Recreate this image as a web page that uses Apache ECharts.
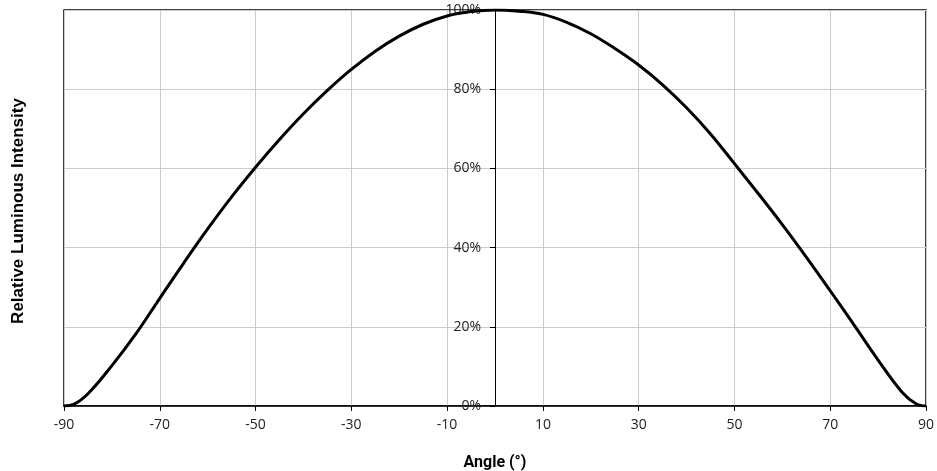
<!DOCTYPE html>
<html>
<head>
<meta charset="utf-8">
<script src="https://cdn.jsdelivr.net/npm/echarts@6/dist/echarts.min.js"></script>
<style>
html,body{margin:0;padding:0;background:#fff;}
#chart{width:937px;height:471px;}
</style>
</head>
<body>
<div id="chart"></div>
<script>
const angles = [-90,-88,-85,-80,-75,-70,-65,-60,-55,-50,-45,-40,-35,-30,-25,-20,-15,-10,-5,0,5,10,15,20,25,30,35,40,45,50,55,60,65,70,75,80,85,88,90];
const intensity = [0,0.4,3.1,10.2,18.2,27.2,36.1,44.7,52.8,60.3,67.3,73.8,79.7,85.0,89.6,93.4,96.4,98.5,99.6,100,99.7,98.9,96.9,94.0,90.3,86.1,81.1,75.3,68.7,61.2,53.6,45.8,37.6,29.1,20.4,11.6,3.5,0.5,0];
const xTitle = 'Angle (°)';
const yTitle = 'Relative Luminous Intensity';

const seriesData = angles.map((a, i) => [a, intensity[i]]);
const W = 937, gridLeft = 64, gridRight = 11;
const xMin = -90, xMax = 90;
// shift the y axis from the left edge to x = 0
const yOffset = -((W - gridLeft - gridRight) * (0 - xMin) / (xMax - xMin));

const chart = echarts.init(document.getElementById('chart'));
chart.setOption({
  animation: false,
  grid: { left: gridLeft, right: gridRight, top: 10, bottom: 65, outerBoundsMode: 'none', containLabel: false, show: true, borderColor: '#000', borderWidth: 1.5, backgroundColor: 'transparent' },
  graphic: [{
    type: 'text', rotation: Math.PI / 2, x: 18, y: 211,
    style: { text: yTitle, font: 'bold 17px "Liberation Sans", Arial, sans-serif', fill: '#000', align: 'center', verticalAlign: 'middle' }
  }],
  xAxis: {
    type: 'value', min: xMin, max: xMax, interval: 20,
    name: xTitle, nameLocation: 'middle', nameGap: 49,
    nameTextStyle: { fontFamily: 'Roboto', fontWeight: 'bold', fontSize: 16, color: '#000' },
    axisLine: { onZero: false, lineStyle: { color: '#000', width: 1.5 } },
    axisTick: { show: true, length: 5, lineStyle: { color: '#000' } },
    axisLabel: { fontFamily: 'Open Sans', fontSize: 14, color: '#222', margin: 12 },
    splitLine: { show: true, lineStyle: { color: '#cccccc', width: 1 } }
  },
  yAxis: {
    type: 'value', min: 0, max: 100, interval: 20, offset: yOffset,
    axisLine: { show: true, onZero: false, lineStyle: { color: '#000', width: 1 } },
    axisTick: { show: true, length: 5, lineStyle: { color: '#000' } },
    axisLabel: { fontFamily: 'Open Sans', fontSize: 14, color: '#222', margin: 14, formatter: v => v + '%' },
    splitLine: { show: true, lineStyle: { color: '#cccccc', width: 1 } }
  },
  series: [{
    type: 'line', data: seriesData, smooth: 0.4, showSymbol: false,
    lineStyle: { color: '#000', width: 3 }, z: 5
  }]
});
</script>
</body>
</html>
